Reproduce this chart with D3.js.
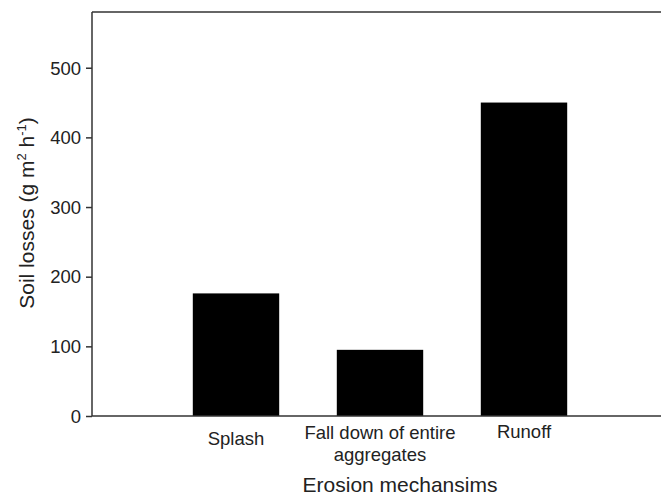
<!DOCTYPE html>
<html>
<head>
<meta charset="utf-8">
<script src="https://cdn.jsdelivr.net/npm/d3@7"></script>
<style>
  html, body { margin: 0; padding: 0; background: #fff; }
  svg { display: block; font-family: "Liberation Sans", Arial, sans-serif; }
</style>
</head>
<body>
<script>
// chart data
const categories = ['Splash', 'Fall down of entire aggregates', 'Runoff'];
const labelLines = [['Splash'], ['Fall down of entire', 'aggregates'], ['Runoff']];
const soilLosses = [176, 95, 450];
const yTicks = [0, 100, 200, 300, 400, 500];

const W = 661, H = 496;
const margin = {top: 12, left: 92, bottom: 80};
const plotBottom = H - margin.bottom; // 416
const axisColor = '#333';

const svg = d3.select('body').append('svg')
  .attr('width', W)
  .attr('height', H);

const x = d3.scalePoint().domain(categories).range([margin.left, margin.left + 576]).padding(1);
const barW = x.step() * 0.6;
const y = d3.scaleLinear().domain([0, 580]).range([plotBottom, margin.top]);

// bars
svg.append('g').selectAll('rect')
  .data(categories)
  .enter()
  .append('rect')
  .attr('x', (d) => x(d) - barW / 2)
  .attr('y', (d, i) => y(soilLosses[i]))
  .attr('width', barW)
  .attr('height', (d, i) => plotBottom - y(soilLosses[i]))
  .attr('fill', '#000');

// frame: left, top, bottom (no right side)
const frame = svg.append('g').attr('stroke', axisColor).attr('stroke-width', 1.5);
frame.append('line').attr('x1', margin.left).attr('x2', W).attr('y1', margin.top).attr('y2', margin.top);
frame.append('line').attr('x1', margin.left).attr('x2', W).attr('y1', plotBottom).attr('y2', plotBottom);

// y axis
const yAxis = svg.append('g')
  .attr('transform', `translate(${margin.left},0)`)
  .call(d3.axisLeft(y).tickValues(yTicks).tickSize(6).tickPadding(5).tickSizeOuter(0));
yAxis.select('.domain').attr('stroke', axisColor).attr('stroke-width', 1.5)
  .attr('d', `M0,${margin.top}V${plotBottom}`);
yAxis.selectAll('.tick line').attr('stroke', axisColor).attr('stroke-width', 1.5);
yAxis.selectAll('.tick text')
  .attr('font-size', 18.5)
  .attr('font-family', '"Liberation Sans", Arial, sans-serif')
  .attr('fill', '#222')
  .attr('dy', '0.34em');

// x labels
const labelBase = [445, 439, 438];
const xl = svg.append('g')
  .attr('font-size', 18.5)
  .attr('fill', '#222')
  .attr('text-anchor', 'middle');
categories.forEach((c, i) => {
  const t = xl.append('text').attr('x', x(c)).attr('y', labelBase[i]);
  labelLines[i].forEach((line, j) => {
    t.append('tspan').attr('x', x(c)).attr('dy', j === 0 ? 0 : 21.5).text(line);
  });
});

// axis titles
svg.append('text')
  .attr('x', 400)
  .attr('y', 492)
  .attr('text-anchor', 'middle')
  .attr('font-size', 21)
  .attr('fill', '#222')
  .text('Erosion mechansims');

const yt = svg.append('text')
  .attr('transform', 'translate(34,213) rotate(-90)')
  .attr('text-anchor', 'middle')
  .attr('font-size', 21)
  .attr('fill', '#222');
yt.append('tspan').text('Soil losses (g m');
yt.append('tspan').attr('font-size', 13).attr('dy', -8).text('2');
yt.append('tspan').attr('dy', 8).text(' h');
yt.append('tspan').attr('font-size', 13).attr('dy', -8).text('-1');
yt.append('tspan').attr('dy', 8).text(')');
</script>
</body>
</html>
